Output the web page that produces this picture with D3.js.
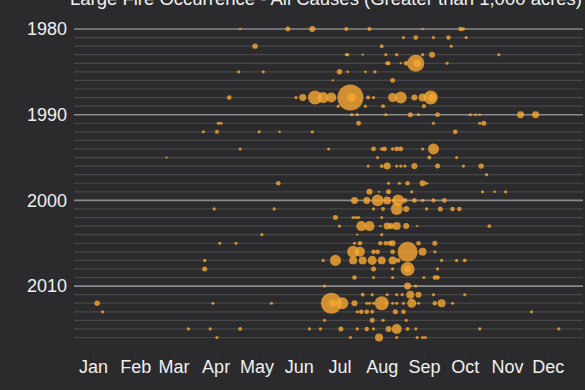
<!DOCTYPE html>
<html>
<head>
<meta charset="utf-8">
<script src="https://cdn.jsdelivr.net/npm/d3@7"></script>
<style>
  body { margin: 0; background: #2b2b2d; }
  svg { display: block; font-family: "Liberation Sans", Arial, Helvetica, sans-serif; }
</style>
</head>
<body>
<div id="chart"></div>
<script>
// month labels and the day of year of the 15th of each month
var months = ["Jan", "Feb", "Mar", "Apr", "May", "Jun", "Jul", "Aug", "Sep", "Oct", "Nov", "Dec"];
var monthTickDays = [15, 46, 74, 105, 135, 166, 196, 227, 258, 288, 319, 349];
var labelYears = [1980, 1990, 2000, 2010];
var firstYear = 1980;
var lastYear = 2016;

// each fire: [year, day of year it started, acres burned]
var fires = [
  [1980, 123, 4000], [1980, 158, 17000], [1980, 176, 27000], [1980, 201, 12000], [1980, 218, 12000],
  [1980, 257, 4000], [1980, 285, 14000], [1980, 287, 9000],
  [1981, 243, 7500], [1981, 252, 17000], [1981, 265, 7500], [1981, 276, 15000], [1981, 289, 7500],
  [1982, 134, 22000], [1982, 227, 10000], [1982, 278, 7500],
  [1983, 201, 7500], [1983, 202, 7500], [1983, 213, 4000], [1983, 230, 7500], [1983, 238, 8000],
  [1983, 257, 7500], [1983, 264, 27000], [1983, 313, 7500],
  [1984, 231, 12000], [1984, 232, 12000], [1984, 241, 4000], [1984, 245, 17000], [1984, 252, 214000],
  [1984, 253, 40000], [1984, 275, 7500],
  [1985, 122, 7500], [1985, 140, 7500], [1985, 196, 22000], [1985, 202, 6000], [1985, 215, 6000], [1985, 222, 7500],
  [1986, 191, 4000], [1986, 235, 17000],
  [1988, 115, 16000], [1988, 164, 7500], [1988, 169, 36000], [1988, 178, 145000], [1988, 184, 90000],
  [1988, 190, 74000], [1988, 204, 500000], [1988, 205, 60000], [1988, 217, 12000], [1988, 221, 8000],
  [1988, 235, 60000], [1988, 241, 106000], [1988, 251, 27000], [1988, 257, 47000], [1988, 263, 145000],
  [1988, 264, 47000],
  [1989, 195, 7500], [1989, 215, 7500], [1989, 228, 11000], [1989, 258, 12000],
  [1990, 205, 7500], [1990, 209, 7500], [1990, 230, 7500], [1990, 248, 18500], [1990, 254, 7500],
  [1990, 268, 16000], [1990, 292, 7000], [1990, 296, 5000], [1990, 299, 5000], [1990, 329, 36000],
  [1990, 340, 36000],
  [1991, 107, 7500], [1991, 109, 7500], [1991, 210, 17000], [1991, 265, 7500], [1991, 299, 7500], [1991, 302, 18500],
  [1992, 96, 7500], [1992, 106, 12000], [1992, 137, 7500], [1992, 152, 5000], [1992, 176, 7500], [1992, 281, 16000],
  [1994, 123, 7500], [1994, 188, 7500], [1994, 221, 17000], [1994, 227, 9000], [1994, 229, 17000],
  [1994, 235, 9000], [1994, 238, 17000], [1994, 241, 17000], [1994, 257, 7500], [1994, 265, 90000],
  [1995, 69, 4000], [1995, 224, 7500], [1995, 262, 12000], [1995, 282, 7500],
  [1996, 217, 7500], [1996, 227, 11000], [1996, 231, 36000], [1996, 238, 7500], [1996, 241, 7500],
  [1996, 244, 7500], [1996, 251, 27000], [1996, 268, 18500], [1996, 287, 7500], [1996, 300, 22000],
  [1997, 304, 7500],
  [1998, 151, 16000], [1998, 232, 7500], [1998, 240, 7500], [1998, 246, 16000], [1998, 257, 27000], [1998, 260, 7500],
  [1999, 218, 27000], [1999, 225, 4000], [1999, 232, 18500], [1999, 249, 7500], [1999, 301, 7500],
  [1999, 310, 5000], [1999, 318, 7500],
  [2000, 207, 36000], [2000, 216, 36000], [2000, 224, 106000], [2000, 231, 47000], [2000, 236, 9000],
  [2000, 239, 106000], [2000, 244, 17000], [2000, 251, 17000], [2000, 257, 7500], [2000, 265, 12000],
  [2000, 273, 16000],
  [2001, 104, 7500], [2001, 148, 7500], [2001, 221, 7500], [2001, 228, 11000], [2001, 238, 106000],
  [2001, 245, 27000], [2001, 260, 7500], [2001, 270, 18500], [2001, 279, 15000], [2001, 284, 15000],
  [2002, 193, 18500], [2002, 206, 7500], [2002, 208, 7500], [2002, 210, 7500], [2002, 227, 7500],
  [2003, 196, 7500], [2003, 212, 74000], [2003, 218, 74000], [2003, 226, 4000], [2003, 231, 36000],
  [2003, 234, 27000], [2003, 238, 47000], [2003, 245, 27000], [2003, 253, 4000], [2003, 306, 11000],
  [2004, 139, 7500], [2004, 209, 4000], [2004, 227, 7500],
  [2005, 108, 7500], [2005, 120, 7500], [2005, 207, 7500], [2005, 211, 16000], [2005, 226, 14000],
  [2005, 230, 16000], [2005, 233, 17000], [2005, 235, 27000], [2005, 254, 16000], [2005, 266, 18500],
  [2006, 206, 106000], [2006, 211, 74000], [2006, 221, 16000], [2006, 224, 16000], [2006, 235, 17000],
  [2006, 246, 296000], [2006, 257, 47000], [2006, 266, 7500],
  [2007, 97, 7500], [2007, 184, 7500], [2007, 193, 90000], [2007, 206, 47000], [2007, 213, 47000],
  [2007, 220, 60000], [2007, 227, 47000], [2007, 235, 47000], [2007, 239, 17000], [2007, 271, 7500],
  [2007, 282, 7500], [2007, 288, 11000],
  [2008, 97, 18500], [2008, 221, 18500], [2008, 235, 7500], [2008, 246, 145000], [2008, 246, 36000],
  [2008, 268, 7500],
  [2009, 207, 16000], [2009, 221, 7500], [2009, 235, 7500], [2009, 258, 7500], [2009, 266, 15000], [2009, 268, 15000],
  [2010, 185, 7500], [2010, 246, 36000], [2010, 252, 7500],
  [2011, 213, 11000], [2011, 220, 7500], [2011, 231, 7500], [2011, 238, 7500], [2011, 242, 7500],
  [2011, 248, 47000], [2011, 254, 27000], [2011, 265, 7500], [2011, 288, 7500],
  [2012, 18, 22000], [2012, 103, 7500], [2012, 146, 7500], [2012, 190, 326000], [2012, 191, 40000],
  [2012, 198, 106000], [2012, 207, 27000], [2012, 216, 7500], [2012, 218, 7500], [2012, 221, 7500],
  [2012, 227, 145000], [2012, 230, 7500], [2012, 235, 7500], [2012, 238, 7500], [2012, 243, 7500],
  [2012, 249, 60000], [2012, 254, 7500], [2012, 266, 16000], [2012, 271, 47000], [2012, 279, 7500],
  [2013, 22, 7500], [2013, 209, 7500], [2013, 212, 16000], [2013, 216, 16000], [2013, 220, 11000],
  [2013, 237, 18500], [2013, 243, 16000], [2013, 337, 7500],
  [2014, 185, 7500], [2014, 220, 18500], [2014, 228, 7500], [2014, 245, 7500],
  [2015, 85, 7500], [2015, 101, 7500], [2015, 123, 11000], [2015, 174, 7500], [2015, 182, 7500],
  [2015, 197, 18500], [2015, 209, 7500], [2015, 216, 15000], [2015, 221, 7500], [2015, 232, 27000],
  [2015, 238, 74000], [2015, 246, 11000], [2015, 252, 7500], [2015, 299, 7500], [2015, 357, 7500],
  [2016, 106, 7500], [2016, 204, 7500], [2016, 225, 47000], [2016, 238, 7500], [2016, 253, 7500],
  [2016, 257, 7500], [2016, 259, 7500]
];

var svgWidth = 585;
var svgHeight = 390;

var margin = { top: 29, right: 2, bottom: 52, left: 74 };
var width = svgWidth - margin.left - margin.right;
// years only fill part of the plot, the month labels sit under them
var yearsHeight = 308.5;

var svg = d3.select("#chart")
  .append("svg")
  .attr("width", svgWidth)
  .attr("height", svgHeight);

svg.append("rect")
  .attr("width", svgWidth)
  .attr("height", svgHeight)
  .attr("fill", "#2b2b2d");

var chartGroup = svg.append("g")
  .attr("transform", `translate(${margin.left}, ${margin.top})`);

// x is day of year, the year does not run all the way to the right edge
var xScale = d3.scaleLinear()
  .domain([1, 366])
  .range([0, 497]);

var yScale = d3.scaleLinear()
  .domain([firstYear, lastYear])
  .range([0, yearsHeight]);

var rScale = d3.scaleSqrt()
  .domain([0, 500000])
  .range([0, 13]);

// one line per year, decades brighter
var allYears = d3.range(firstYear, lastYear + 1);
chartGroup.selectAll(".year-line")
  .data(allYears)
  .enter()
  .append("line")
  .attr("class", "year-line")
  .attr("x1", 0)
  .attr("x2", width)
  .attr("y1", d => yScale(d))
  .attr("y2", d => yScale(d))
  .attr("stroke", d => d % 10 === 0 ? "#8a8a8a" : "#474747")
  .attr("stroke-width", d => d % 10 === 0 ? 1.6 : 1.2);

// y axis, labels only
var leftAxis = d3.axisLeft(yScale)
  .tickValues(labelYears)
  .tickFormat(d3.format("d"))
  .tickSize(0)
  .tickPadding(7);

var yAxis = chartGroup.append("g").call(leftAxis);
yAxis.select(".domain").remove();
yAxis.selectAll("text")
  .attr("fill", "#f0f0f0")
  .attr("font-size", 18)
  .attr("font-family", "Liberation Sans, Arial, sans-serif");

// x axis with month names on the 15th
var bottomAxis = d3.axisBottom(xScale)
  .tickValues(monthTickDays)
  .tickFormat((d, i) => months[i])
  .tickSize(3)
  .tickPadding(4);

var xAxis = chartGroup.append("g")
  .attr("transform", `translate(0, ${yearsHeight + 16})`)
  .call(bottomAxis);
xAxis.select(".domain").remove();
xAxis.selectAll("line").attr("stroke", "#3c3c3e");
xAxis.selectAll("text")
  .attr("fill", "#f0f0f0")
  .attr("font-size", 18)
  .attr("font-family", "Liberation Sans, Arial, sans-serif");

// bubbles, biggest first so the small ones stay visible
var sorted = fires.slice().sort((a, b) => b[2] - a[2]);
chartGroup.selectAll("circle")
  .data(sorted)
  .enter()
  .append("circle")
  .attr("cx", d => xScale(d[1]))
  .attr("cy", d => yScale(d[0]))
  .attr("r", d => rScale(d[2]))
  .attr("fill", "#f7a732")
  .attr("fill-opacity", 0.8);

// title, partly cut off by the top edge like the original
svg.append("text")
  .attr("x", 326)
  .attr("y", 5)
  .attr("text-anchor", "middle")
  .attr("fill", "#f0f0f0")
  .attr("font-size", 18.5)
  .text("Large Fire Occurrence - All Causes (Greater than 1,000 acres)");
</script>
</body>
</html>
